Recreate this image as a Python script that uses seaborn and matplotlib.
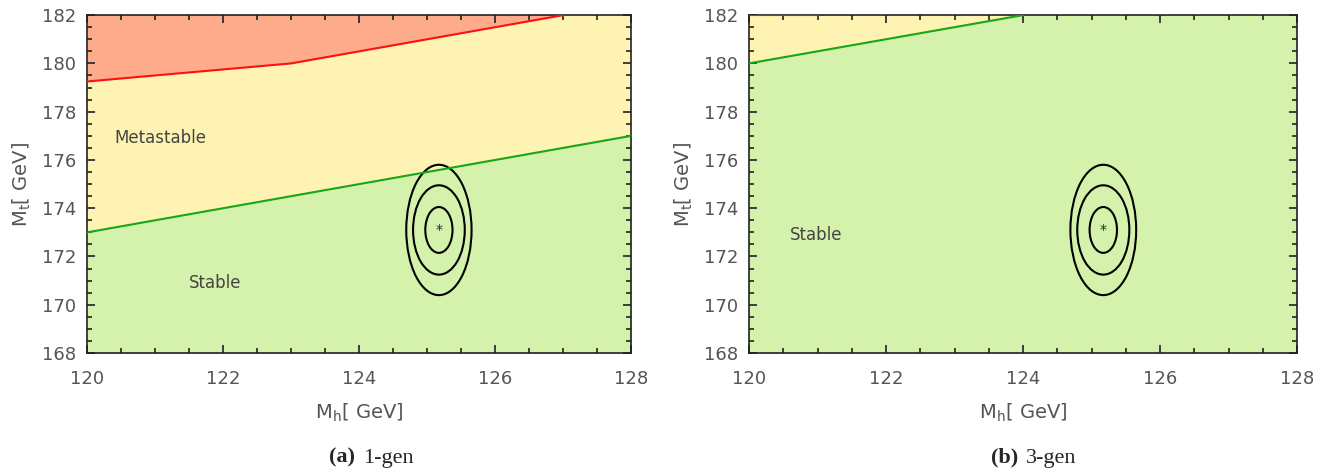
import matplotlib
matplotlib.use("Agg")
import matplotlib.pyplot as plt
from matplotlib.patches import Ellipse
from matplotlib.ticker import MultipleLocator
import seaborn as sns

# 1-gen boundaries
mh_meta_1 = [120, 121, 122, 123, 124, 125, 126, 127]
mt_meta_1 = [179.25, 179.5, 179.75, 180.0, 180.5, 181.0, 181.5, 182.0]
mh_stab_1 = [120, 122, 124, 126, 128]
mt_stab_1 = [173.0, 174.0, 175.0, 176.0, 177.0]

# 3-gen boundaries
mh_meta_3 = [120, 121]
mt_meta_3 = [182.0, 182.0]
mh_stab_3 = [120, 122, 124]
mt_stab_3 = [180.0, 181.0, 182.0]

# experimental point and 1/2/3 sigma contours
center = (125.17, 173.1)
half_w = [0.2, 0.38, 0.48]
half_h = [0.95, 1.85, 2.7]

red_fill = "#fdab8a"
yellow_fill = "#fff3b3"
green_fill = "#d5f2ac"
red_line = "#ff1010"
green_line = "#16a616"
grey = "#555555"

sns.set_style("ticks")
plt.rcParams["font.family"] = ["DejaVu Sans"]
plt.rcParams["mathtext.fontset"] = "dejavusans"

fig = plt.figure(figsize=(13.21, 4.72), dpi=100)
ax1 = fig.add_axes([0.066, 0.252, 0.412, 0.716])
ax2 = fig.add_axes([0.567, 0.252, 0.415, 0.716])


def draw_panel(ax, mh_m, mt_m, mh_s, mt_s):
    ax.set_facecolor(yellow_fill)
    # unstable region above the red line
    ax.fill_between(mh_m, mt_m, 182.5, color=red_fill, lw=0)
    # stable region below the green line (all green past its end)
    ax.fill_between(mh_s, 167.5, mt_s, color=green_fill, lw=0)
    if mh_s[-1] < 128:
        ax.fill_between([mh_s[-1], 128], 167.5, 182.5, color=green_fill, lw=0)

    sns.lineplot(x=mh_m, y=mt_m, ax=ax, color=red_line, lw=1.5, zorder=6)
    sns.lineplot(x=mh_s, y=mt_s, ax=ax, color=green_line, lw=1.5, zorder=6)
    for w, h in zip(half_w, half_h):
        ax.add_patch(Ellipse(center, 2 * w, 2 * h, fill=False, ec="black", lw=1.5))
    ax.text(center[0], center[1], "*", ha="center", va="center", fontsize=10)

    ax.set_xlim(120, 128)
    ax.set_ylim(168, 182)
    ax.set_axisbelow(False)
    ax.xaxis.set_major_locator(MultipleLocator(2))
    ax.xaxis.set_minor_locator(MultipleLocator(0.5))
    ax.yaxis.set_major_locator(MultipleLocator(2))
    ax.yaxis.set_minor_locator(MultipleLocator(0.5))
    ax.tick_params(which="both", direction="in", top=True, right=True, labelsize=13,
                   labelcolor=grey, width=1.2, color="#222222")
    ax.tick_params(which="major", length=6)
    ax.tick_params(which="minor", length=3.5)
    ax.tick_params(axis="x", pad=12)
    ax.tick_params(axis="y", pad=8)
    ax.set_xlabel(r"M$_\mathrm{h}$[ GeV]", fontsize=14, color=grey, labelpad=10)
    ax.set_ylabel(r"M$_\mathrm{t}$[ GeV]", fontsize=14, color=grey, labelpad=6)
    for s in ax.spines.values():
        s.set_linewidth(1.2)
        s.set_color("#222222")
        s.set_zorder(5)


draw_panel(ax1, mh_meta_1, mt_meta_1, mh_stab_1, mt_stab_1)
draw_panel(ax2, mh_meta_3, mt_meta_3, mh_stab_3, mt_stab_3)

ax1.text(120.4, 176.9, "Metastable", fontsize=12, color="#444444", va="center")
ax1.text(121.5, 170.9, "Stable", fontsize=12, color="#444444", va="center")
ax2.text(120.6, 172.9, "Stable", fontsize=12, color="#444444", va="center")

for x, tag, name in [(0.272, "(a)", "1-gen"), (0.774, "(b)", "3-gen")]:
    fig.text(x - 0.003, 0.02, tag, ha="right", fontsize=16, fontweight="bold",
             family="Liberation Serif")
    fig.text(x + 0.003, 0.02, name, ha="left", fontsize=16, family="Liberation Serif")

fig.savefig("out.png", dpi=100)
